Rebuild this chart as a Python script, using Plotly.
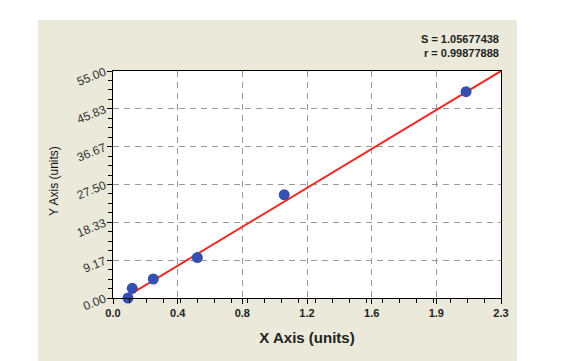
import plotly.graph_objects as go

# Data
x_vals = [0.089, 0.114, 0.239, 0.50, 1.015, 2.093]
y_vals = [0.0, 2.35, 4.6, 9.8, 25.0, 50.0]
fit_x = [0.046, 2.3]
fit_y = [-0.5, 55.0]
x_tick_vals = [i * 2.3 / 6 for i in range(7)]
x_tick_text = ["0.0", "0.4", "0.8", "1.2", "1.6", "1.9", "2.3"]
y_tick_vals = [i * 55 / 6 for i in range(7)]
y_tick_text = ["0.00", "9.17", "18.33", "27.50", "36.67", "45.83", "55.00"]
x_minor_vals = [i * 0.1 for i in range(24)]
y_minor_vals = [i * 55 / 24 for i in range(25)]
stats_text = ["S = 1.05677438", "r = 0.99877888"]

FONT = "Liberation Sans, Arial, sans-serif"

fig = go.Figure()
fig.add_trace(go.Scatter(x=fit_x, y=fit_y, mode="lines",
                         line=dict(color="#ee2a24", width=2), cliponaxis=False,
                         hoverinfo="skip", showlegend=False))
fig.add_trace(go.Scatter(x=x_vals, y=y_vals, mode="markers",
                         marker=dict(color="#3550b0", size=11,
                                     line=dict(width=0)),
                         cliponaxis=False, showlegend=False))

W, H = 565, 361
L, R, T, B = 113, 501, 71, 298
pw, ph = R - L, B - T

def px2paper_x(px):
    return (px - L) / pw

def px2paper_y(py):
    return (B - py) / ph

# beige panel
fig.add_shape(type="rect", xref="paper", yref="paper", layer="below",
              x0=px2paper_x(38), x1=px2paper_x(517),
              y0=px2paper_y(361), y1=px2paper_y(20),
              fillcolor="#ebe9da", line=dict(width=0))
fig.add_shape(type="rect", xref="paper", yref="paper", layer="below",
              x0=0, x1=1, y0=0, y1=1,
              fillcolor="white", line=dict(width=0))

fig.add_annotation(xref="paper", yref="paper", x=1.0, y=px2paper_y(39),
                   text="<b>" + stats_text[0] + "</b>", showarrow=False,
                   xanchor="right", yanchor="middle",
                   font=dict(family=FONT, size=11, color="#222"))
fig.add_annotation(xref="paper", yref="paper", x=1.0, y=px2paper_y(53),
                   text="<b>" + stats_text[1] + "</b>", showarrow=False,
                   xanchor="right", yanchor="middle",
                   font=dict(family=FONT, size=11, color="#222"))
fig.add_annotation(xref="paper", yref="paper", x=px2paper_x(54), y=px2paper_y(181),
                   text="Y Axis (units)", showarrow=False, textangle=-90,
                   xanchor="center", yanchor="middle",
                   font=dict(family=FONT, size=12, color="#111"))

fig.update_layout(
    width=W, height=H,
    margin=dict(l=L, r=W - R, t=T, b=H - B, pad=0),
    paper_bgcolor="white", plot_bgcolor="rgba(0,0,0,0)",
    font=dict(family=FONT, color="#222"),
    xaxis=dict(range=[0, 2.3], tickmode="array", tickvals=x_tick_vals,
               ticktext=x_tick_text, ticks="outside", ticklen=5,
               tickcolor="black", showline=True, linecolor="black",
               linewidth=1, mirror=True, showgrid=True, gridcolor="#9a9a9a",
               griddash="6px,5px", gridwidth=1, zeroline=False,
               tickfont=dict(family=FONT, size=11, color="#222", weight="bold"),
               title=dict(text="<b>X Axis (units)</b>", standoff=14,
                          font=dict(family=FONT, size=15, color="#222"))),
    yaxis=dict(range=[0, 55], tickmode="array", tickvals=y_tick_vals,
               ticktext=y_tick_text, ticks="outside", ticklen=5,
               tickcolor="black", showline=True, linecolor="black",
               linewidth=1, mirror=True, showgrid=True, gridcolor="#9a9a9a",
               griddash="6px,5px", gridwidth=1, zeroline=False, tickangle=-22,
               tickfont=dict(family=FONT, size=12, color="#333")),
)

# minor ticks drawn as an overlaid axis with no grid
fig.update_layout(
    xaxis2=dict(overlaying="x", matches="x", side="bottom", anchor="y",
                tickmode="array", tickvals=x_minor_vals, showticklabels=False,
                ticks="outside", ticklen=4, tickcolor="black", showgrid=False,
                zeroline=False, showline=False),
    yaxis2=dict(overlaying="y", matches="y", side="left", anchor="x",
                tickmode="array", tickvals=y_minor_vals, showticklabels=False,
                ticks="outside", ticklen=4, tickcolor="black", showgrid=False,
                zeroline=False, showline=False),
)
fig.add_trace(go.Scatter(x=[None], y=[None], xaxis="x2", yaxis="y2",
                         showlegend=False, hoverinfo="skip"))

fig.write_html("out.html")
